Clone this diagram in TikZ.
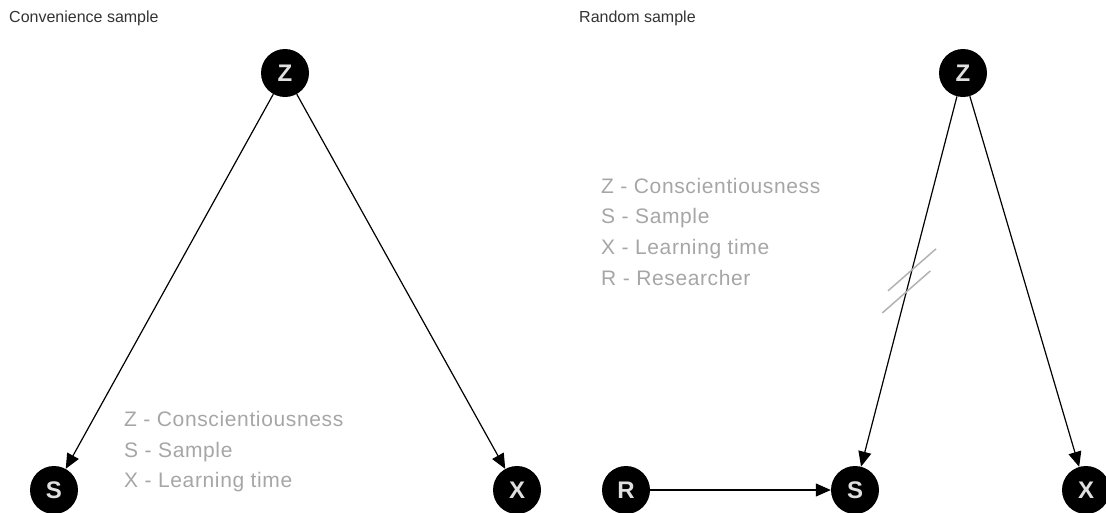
\documentclass[tikz,border=0pt]{standalone}
\usepackage{fontspec}
\setmainfont{Liberation Sans}
\newfontfamily\keyfont[LetterSpace=3]{Liberation Sans}
\usetikzlibrary{arrows.meta,calc}

\begin{document}
\begin{tikzpicture}[x=1pt,y=-1pt,
	var/.style={circle,fill=black,minimum size=48pt,inner sep=0pt,text=black!12,font=\fontsize{24}{24}\selectfont\bfseries},
	arrow/.style={-{Triangle[length=15pt,width=13pt]},line width=1.2pt},
	keytext/.style={anchor=base west,align=left,inner sep=0pt,text=black!35,font=\keyfont\fontsize{21}{30.6}\selectfont},
	heading/.style={anchor=base west,inner sep=0pt,text=black!80,font=\fontsize{16}{16}\selectfont},
	blocked/.style={black!30,line width=1.5pt}]
	\useasboundingbox (0,0) rectangle (1106,512);
	% convenience sample
	\node[heading] (t1) at (9,22) {Convenience sample};
	\node[var] (z1) at (285,73) {Z};
	\node[var] (s1) at (54,490) {S};
	\node[var] (x1) at (517,490) {X};
	\draw[arrow] (z1) -- (s1);
	\draw[arrow] (z1) -- (x1);
	\node[keytext] (k1) at (124,487.7) {Z - Conscientiousness\\S - Sample\\X - Learning time};
	% random sample
	\node[heading] (t2) at (579,22) {Random sample};
	\node[var] (z2) at (963,73) {Z};
	\node[var] (r2) at (626,490) {R};
	\node[var] (s2) at (855,490) {S};
	\node[var] (x2) at (1086,490) {X};
	\draw[arrow] (z2) -- (s2);
	\draw[arrow] (z2) -- (x2);
	\draw[arrow] (r2) -- (s2);
	\node[keytext] (k2) at (601,285.1) {Z - Conscientiousness\\S - Sample\\X - Learning time\\R - Researcher};
	% the link Z -> S is cut
	\coordinate (c1) at ($(z2)!0.472!(s2)$);
	\coordinate (c2) at ($(z2)!0.525!(s2)$);
	\draw[blocked] ($(c1)+(24,-21)$) -- ($(c1)+(-24,21)$);
	\draw[blocked] ($(c2)+(24,-21)$) -- ($(c2)+(-24,21)$);
\end{tikzpicture}
\end{document}
